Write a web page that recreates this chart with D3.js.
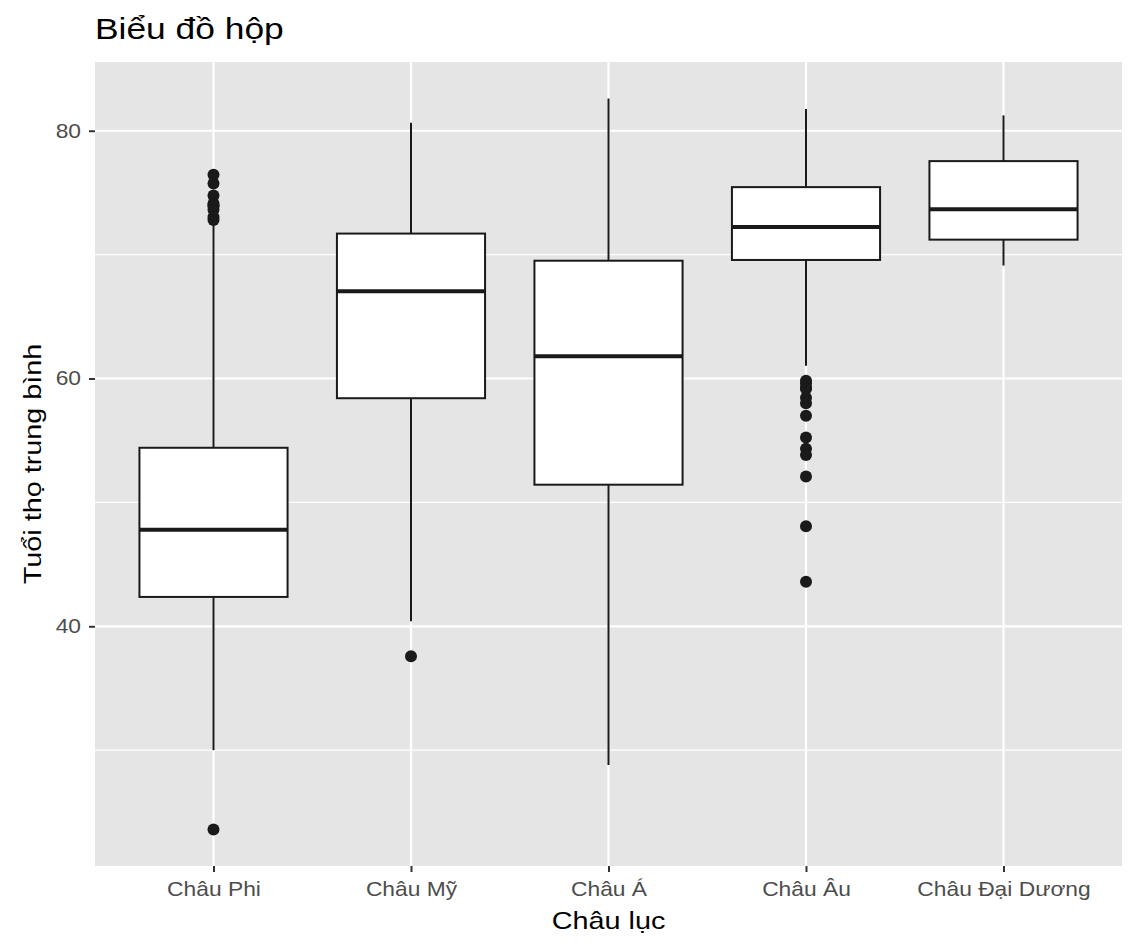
<!DOCTYPE html>
<html>
<head>
<meta charset="utf-8">
<script src="https://cdn.jsdelivr.net/npm/d3@7"></script>
<style>
  body { margin: 0; background: #fff; }
  text { font-family: "Liberation Sans", Arial, sans-serif; }
</style>
</head>
<body>
<div id="chart"></div>
<script>
// Box plot: life expectancy by continent

// ==========================================================
// Data
var continents = ["Châu Phi", "Châu Mỹ", "Châu Á", "Châu Âu", "Châu Đại Dương"];
var q1 = [42.37, 58.41, 51.43, 69.57, 71.21];
var medians = [47.79, 67.05, 61.79, 72.24, 73.67];
var q3 = [54.41, 71.70, 69.51, 75.45, 77.55];
var whiskerLow = [30.0, 40.41, 28.80, 61.04, 69.12];
var whiskerHigh = [72.4, 80.65, 82.60, 81.76, 81.24];
var outliers = [
    [76.44, 75.74, 74.77, 74.13, 73.95, 73.92, 73.62, 73.04, 72.80, 23.60],
    [37.58],
    [],
    [59.82, 59.60, 59.28, 59.16, 58.45, 58.00, 57.00, 55.23, 54.34, 53.82, 52.10, 48.08, 43.59],
    []
];
var yTicks = [40, 60, 80];
var yMinor = [30, 50, 70];

// ==========================================================
// Set margins
var svgWidth = 1136;
var svgHeight = 944;

var margin = { top: 62, right: 14, bottom: 78, left: 95 };

var width = svgWidth - margin.left - margin.right;
var height = svgHeight - margin.top - margin.bottom;

// the reference text is a bit wider than Liberation Sans
var textStretch = 1.2;
var tickStretch = 1.14;

var svg = d3.select("#chart")
    .append("svg")
    .attr("width", svgWidth)
    .attr("height", svgHeight);

var chartGroup = svg.append("g")
    .attr("transform", `translate(${margin.left}, ${margin.top})`);

// ==========================================================
// Scales
var allValues = d3.merge([whiskerLow, whiskerHigh, d3.merge(outliers)]);
var yMin = d3.min(allValues), yMax = d3.max(allValues);
var pad = (yMax - yMin) * 0.05;

var yScale = d3.scaleLinear()
    .domain([yMin - pad, yMax + pad])
    .range([height, 0]);

// ggplot style discrete axis: 0.6 expansion on each side
var xScale = d3.scalePoint()
    .domain(continents)
    .range([0, width])
    .padding(0.6);
var step = xScale.step();
var boxWidth = step * 0.75;

// panel background
chartGroup.append("rect")
    .attr("width", width)
    .attr("height", height)
    .attr("fill", "#e5e5e5");

// minor gridlines
chartGroup.selectAll(".minor")
    .data(yMinor)
    .enter()
    .append("line")
    .attr("x1", 0).attr("x2", width)
    .attr("y1", d => yScale(d)).attr("y2", d => yScale(d))
    .attr("stroke", "#fff")
    .attr("stroke-width", 1.1);

// major gridlines
chartGroup.selectAll(".major-y")
    .data(yTicks)
    .enter()
    .append("line")
    .attr("x1", 0).attr("x2", width)
    .attr("y1", d => yScale(d)).attr("y2", d => yScale(d))
    .attr("stroke", "#fff")
    .attr("stroke-width", 2.2);

chartGroup.selectAll(".major-x")
    .data(continents)
    .enter()
    .append("line")
    .attr("x1", d => xScale(d)).attr("x2", d => xScale(d))
    .attr("y1", 0).attr("y2", height)
    .attr("stroke", "#fff")
    .attr("stroke-width", 2.2);

// ==========================================================
// Boxes
var boxes = chartGroup.selectAll(".box")
    .data(continents)
    .enter()
    .append("g")
    .attr("transform", d => `translate(${xScale(d)}, 0)`);

// whiskers
boxes.append("line")
    .attr("x1", 0).attr("x2", 0)
    .attr("y1", (d, i) => yScale(whiskerHigh[i]))
    .attr("y2", (d, i) => yScale(q3[i]))
    .attr("stroke", "#1a1a1a")
    .attr("stroke-width", 2);

boxes.append("line")
    .attr("x1", 0).attr("x2", 0)
    .attr("y1", (d, i) => yScale(q1[i]))
    .attr("y2", (d, i) => yScale(whiskerLow[i]))
    .attr("stroke", "#1a1a1a")
    .attr("stroke-width", 2);

// box
boxes.append("rect")
    .attr("x", -boxWidth / 2)
    .attr("width", boxWidth)
    .attr("y", (d, i) => yScale(q3[i]))
    .attr("height", (d, i) => yScale(q1[i]) - yScale(q3[i]))
    .attr("fill", "#fff")
    .attr("stroke", "#1a1a1a")
    .attr("stroke-width", 2);

// median
boxes.append("line")
    .attr("x1", -boxWidth / 2).attr("x2", boxWidth / 2)
    .attr("y1", (d, i) => yScale(medians[i]))
    .attr("y2", (d, i) => yScale(medians[i]))
    .attr("stroke", "#1a1a1a")
    .attr("stroke-width", 4);

// outliers
boxes.each(function(d, i) {
    d3.select(this).selectAll("circle")
        .data(outliers[i])
        .enter()
        .append("circle")
        .attr("cx", 0)
        .attr("cy", v => yScale(v))
        .attr("r", 6)
        .attr("fill", "#1a1a1a");
});

// ==========================================================
// Axes
var leftAxis = d3.axisLeft(yScale).tickValues(yTicks).tickSize(6).tickPadding(8);
var bottomAxis = d3.axisBottom(xScale).tickSize(6).tickPadding(10);

var yAxisG = chartGroup.append("g").call(leftAxis);
var xAxisG = chartGroup.append("g")
    .attr("transform", `translate(0, ${height})`)
    .call(bottomAxis);

[yAxisG, xAxisG].forEach(function(g) {
    g.select(".domain").remove();
    g.selectAll(".tick line").attr("stroke", "#333").attr("stroke-width", 2);
    g.selectAll(".tick text")
        .attr("fill", "#4d4d4d")
        .style("font-size", "20px")
        .style("font-family", "'Liberation Sans', Arial, sans-serif")
        .each(function() {
            // widen text around its anchor point
            var t = d3.select(this);
            var x = +t.attr("x") || 0;
            var y = +t.attr("y") || 0;
            t.attr("x", 0).attr("y", 0)
             .attr("transform", `translate(${x}, ${y}) scale(${tickStretch}, 1)`);
        });
});

// axis titles
svg.append("text")
    .attr("transform", `translate(${margin.left + width / 2}, 929) scale(${textStretch}, 1)`)
    .attr("text-anchor", "middle")
    .style("font-size", "24px")
    .attr("fill", "#000")
    .text("Châu lục");

svg.append("text")
    .attr("transform", `translate(41, ${margin.top + height / 2}) rotate(-90) scale(${textStretch}, 1)`)
    .attr("text-anchor", "middle")
    .style("font-size", "24px")
    .attr("fill", "#000")
    .text("Tuổi thọ trung bình");

// title
svg.append("text")
    .attr("transform", `translate(${margin.left}, 39) scale(${textStretch + 0.02}, 1)`)
    .style("font-size", "29px")
    .attr("fill", "#000")
    .text("Biểu đồ hộp");
</script>
</body>
</html>
